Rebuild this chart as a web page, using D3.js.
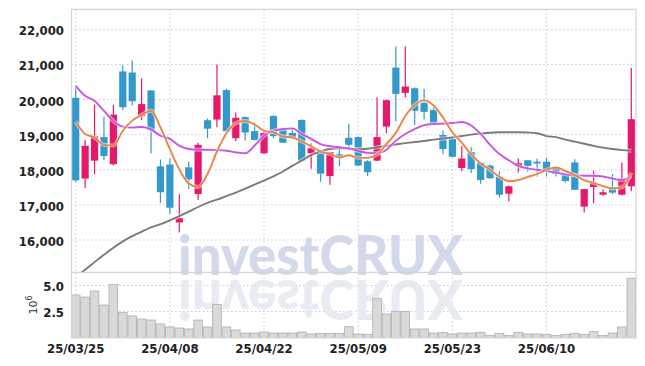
<!DOCTYPE html>
<html><head><meta charset="utf-8">
<script src="https://cdn.jsdelivr.net/npm/d3@7"></script>
<style>body{margin:0;background:#fff}svg{display:block}</style>
</head><body>
<svg id="c" width="645" height="366"></svg>
<script>
const dates = ["25/03/25","25/03/26","25/03/27","25/03/28","25/03/31","25/04/01","25/04/02","25/04/03","25/04/04","25/04/07",
"25/04/08","25/04/09","25/04/10","25/04/11","25/04/14","25/04/15","25/04/16","25/04/17","25/04/18","25/04/21",
"25/04/22","25/04/23","25/04/24","25/04/25","25/04/28","25/04/29","25/04/30","25/05/02","25/05/07","25/05/08",
"25/05/09","25/05/12","25/05/13","25/05/14","25/05/15","25/05/16","25/05/19","25/05/20","25/05/21","25/05/22",
"25/05/23","25/05/26","25/05/27","25/05/28","25/05/29","25/05/30","25/06/02","25/06/04","25/06/05","25/06/09",
"25/06/10","25/06/11","25/06/12","25/06/13","25/06/16","25/06/17","25/06/18","25/06/19","25/06/20","25/06/23"];
const openP = [20050,17750,18260,18930,18160,20800,20770,19530,20260,18100,
18150,16500,18070,17310,19410,19430,20270,18900,19500,19100,
18470,19530,19160,19050,19420,18470,18550,17820,18440,18910,
18930,18240,18260,19230,20910,20190,20320,19910,19700,18990,
18880,18050,18500,18200,18120,17800,17320,18110,18270,18230,
18230,18060,17880,18210,16950,17510,17290,17500,17290,17530];
const highP = [20350,18850,19850,19510,19850,20970,21110,20600,20260,18290,
18320,17300,18230,18770,19460,21000,20310,19630,19520,19340,
19100,19550,19200,19160,19430,18750,18560,18510,18640,19310,
18950,18280,20060,20000,21510,21510,20340,20300,19790,19120,
18890,18680,18640,18220,18140,17950,17550,18320,18280,18320,
18340,18070,17890,18300,17460,17970,17440,17880,18210,20900];
const lowP = [17650,17480,17870,18280,18120,19700,19830,19410,18460,17060,
16740,16210,17460,17140,18900,19210,19080,18810,18830,18830,
18450,18900,18760,18900,18240,18030,17660,17570,18110,18550,
18110,17820,18250,19040,19380,20060,19270,19440,19330,18440,
18360,17960,17910,17600,17740,17210,17100,17920,17950,17810,
17810,17810,17640,17420,16780,17050,17260,17300,17270,17390];
const closeP = [17700,18680,18950,18390,19570,19780,19950,19870,19130,17360,
16920,16620,17730,18710,19170,20120,19100,19480,19060,18850,
19050,18960,18770,18930,18260,18610,17890,18500,18370,18710,
18120,17930,18930,19980,20160,20370,19680,19650,19340,18590,
18370,18320,18020,17710,17760,17290,17530,18190,18110,18180,
17970,17880,17680,17430,17450,17620,17360,17350,17750,19440];
const volume = [4.09,3.89,4.47,3.13,5.11,2.42,2.07,1.78,1.68,1.30,
1.01,0.91,0.82,1.68,1.01,3.19,1.01,0.72,0.43,0.43,
0.53,0.43,0.43,0.43,0.53,0.34,0.40,0.40,0.40,1.04,
0.34,0.30,3.77,2.26,2.52,2.52,0.82,0.82,0.43,0.50,
0.34,0.43,0.43,0.50,0.21,0.40,0.21,0.50,0.34,0.34,
0.30,0.21,0.30,0.40,0.30,0.56,0.21,0.43,1.01,5.69];
const ma5 = [19370,19020,18920,18710,18690,19110,19400,19560,19680,19210,
18590,18010,17610,17510,17880,18520,19040,19330,19390,19290,
19110,19070,18945,18920,18810,18670,18520,18450,18350,18415,
18340,18340,18430,18735,19050,19530,19845,19975,19830,19490,
19070,18770,18440,18180,18000,17800,17675,17710,17795,17880,
18000,18065,17965,17850,17705,17625,17535,17470,17500,17915];
const ma20 = [20390,20105,19960,19680,19390,19230,19200,19220,19150,18970,
18880,18690,18590,18570,18570,18560,18540,18500,18470,18690,
18970,19110,19160,19180,19020,18880,18730,18670,18640,18610,
18540,18480,18470,18570,18830,19020,19160,19270,19305,19315,
19330,19360,19260,19020,18710,18448,18270,18110,18040,18000,
17960,17920,17870,17845,17830,17830,17810,17750,17705,17820];
const ma60 = [14950,15150,15370,15580,15780,15960,16110,16240,16360,16450,
16560,16680,16810,16940,17060,17150,17250,17350,17460,17580,
17690,17810,17950,18110,18260,18420,18520,18590,18610,18600,
18590,18600,18640,18680,18720,18760,18790,18820,18860,18890,
18920,18960,19000,19030,19055,19067,19067,19067,19060,19040,
18960,18930,18860,18800,18740,18680,18630,18590,18560,18543];
const priceTicks = [16000,17000,18000,19000,20000,21000,22000];
const volTicks = [2.5,5.0];
const dateTickIdx = [0,10,20,30,40,50];

const L = 71, R = 636, T = 9.3, MB = 272.3, VB = 337.5;
const svg = d3.select("#c");
const font = "'DejaVu Sans Condensed','DejaVu Sans',sans-serif";
const idx = d3.range(dates.length);
const x = d3.scaleBand().domain(idx).range([L, R]).padding(0);
const cx = i => x(i) + x.bandwidth() / 2;
const y = d3.scaleLinear().domain([15080, 22570]).range([MB, T]);
const yv = d3.scaleLinear().domain([0, 6.27]).range([VB, MB]);

const defs = svg.append("defs");
defs.append("clipPath").attr("id","cm").append("rect").attr("x",L).attr("y",T).attr("width",R-L).attr("height",MB-T);
defs.append("clipPath").attr("id","cv").append("rect").attr("x",L).attr("y",MB).attr("width",R-L).attr("height",VB-MB);

const gridC = "#c6cadd";
const g = svg.append("g");
g.selectAll(".hg").data(priceTicks).join("line")
  .attr("x1",L).attr("x2",R).attr("y1",d=>y(d)).attr("y2",d=>y(d))
  .attr("stroke",gridC).attr("stroke-dasharray","1.5,2.5");
g.selectAll(".vg").data(volTicks).join("line")
  .attr("x1",L).attr("x2",R).attr("y1",d=>yv(d)).attr("y2",d=>yv(d))
  .attr("stroke",gridC).attr("stroke-dasharray","1.5,2.5");
g.selectAll(".xg").data(dateTickIdx).join("line")
  .attr("x1",d=>cx(d)).attr("x2",d=>cx(d)).attr("y1",T).attr("y2",VB)
  .attr("stroke",gridC).attr("stroke-dasharray","1.5,2.5");

// watermark + reflection
const wm = svg.append("g");
wm.append("text").attr("x",178).attr("y",275).text("investCRUX")
  .attr("font-family","Lato, 'Open Sans', sans-serif").attr("font-weight",900).attr("font-size",56)
  .attr("textLength",285).attr("lengthAdjust","spacingAndGlyphs").attr("fill","#d3d8ea");
wm.append("text").attr("x",178).attr("y",-280).attr("transform","scale(1,-1)").text("investCRUX")
  .attr("font-family","Lato, 'Open Sans', sans-serif").attr("font-weight",900).attr("font-size",56)
  .attr("textLength",285).attr("lengthAdjust","spacingAndGlyphs").attr("fill","#e6e8f2").attr("opacity",0.85);

// volume bars
svg.append("g").attr("clip-path","url(#cv)").selectAll("rect").data(idx).join("rect")
  .attr("x",i=>x(i)+0.4).attr("width",x.bandwidth()-0.8)
  .attr("y",i=>yv(volume[i])).attr("height",i=>VB-yv(volume[i]))
  .attr("fill","#d9d9d9").attr("stroke","#aeaeae").attr("stroke-width",0.8);

// candles
const up = "#e5186b", dn = "#3399cc";
const cg = svg.append("g").attr("clip-path","url(#cm)");
const col = i => closeP[i] >= openP[i] ? up : dn;
cg.selectAll(".w").data(idx).join("line")
  .attr("x1",cx).attr("x2",cx).attr("y1",i=>y(highP[i])).attr("y2",i=>y(lowP[i]))
  .attr("stroke",col).attr("stroke-width",1.2);
cg.selectAll(".b").data(idx).join("rect")
  .attr("x",i=>cx(i)-3.6).attr("width",7.2)
  .attr("y",i=>y(Math.max(openP[i],closeP[i])))
  .attr("height",i=>Math.max(1.5, Math.abs(y(openP[i])-y(closeP[i]))))
  .attr("fill",col);

// MA lines
const line = d3.line().x((d,i)=>cx(i)).y(d=>y(d)).curve(d3.curveMonotoneX);
const lg = svg.append("g").attr("clip-path","url(#cm)");
[[ma60,"#7a7a7a"],[ma20,"#c954e6"],[ma5,"#ee8347"]].forEach(([arr,c])=>{
  lg.append("path").attr("d",line(arr)).attr("fill","none").attr("stroke","#fff").attr("stroke-opacity",0.5).attr("stroke-width",4);
  lg.append("path").attr("d",line(arr)).attr("fill","none").attr("stroke",c).attr("stroke-width",1.9);
});

// frame
const fr = "#d4d4d4";
svg.append("line").attr("x1",L).attr("x2",R).attr("y1",T).attr("y2",T).attr("stroke",fr).attr("stroke-width",1.2);
svg.append("line").attr("x1",L).attr("x2",R).attr("y1",MB).attr("y2",MB).attr("stroke",fr).attr("stroke-width",1.2);
svg.append("line").attr("x1",R).attr("x2",R).attr("y1",T).attr("y2",VB).attr("stroke",fr).attr("stroke-width",1.2);

// axes
const ay = svg.append("g").attr("transform",`translate(${L},0)`)
  .call(d3.axisLeft(y).tickValues(priceTicks).tickFormat(d3.format(",")).tickSize(0).tickPadding(7));
const av = svg.append("g").attr("transform",`translate(${L},0)`)
  .call(d3.axisLeft(yv).tickValues(volTicks).tickFormat(d3.format(".1f")).tickSize(0).tickPadding(7));
const ax = svg.append("g").attr("transform",`translate(0,${VB})`)
  .call(d3.axisBottom(x).tickValues(dateTickIdx).tickFormat(i=>dates[i]).tickSize(0).tickPadding(6));
[ay,av].forEach(a=>{a.select(".domain").attr("stroke",fr).attr("stroke-width",1.2);
  a.selectAll("text").attr("dy","0.42em");});
ax.select(".domain").attr("stroke",fr).attr("stroke-width",1.2);
[ay,av,ax].forEach(a=>a.selectAll("text").attr("font-family",font).attr("font-weight","bold")
  .attr("font-size",13).attr("fill","#222"));

// 10^6 label
const ul = svg.append("text").attr("transform","translate(37,305) rotate(-90)")
  .attr("text-anchor","middle").attr("font-family","'DejaVu Sans',sans-serif").attr("font-size",11).attr("fill","#333");
ul.append("tspan").text("10");
ul.append("tspan").attr("dy",-5).attr("font-size",8).text("6");
</script>
</body></html>
